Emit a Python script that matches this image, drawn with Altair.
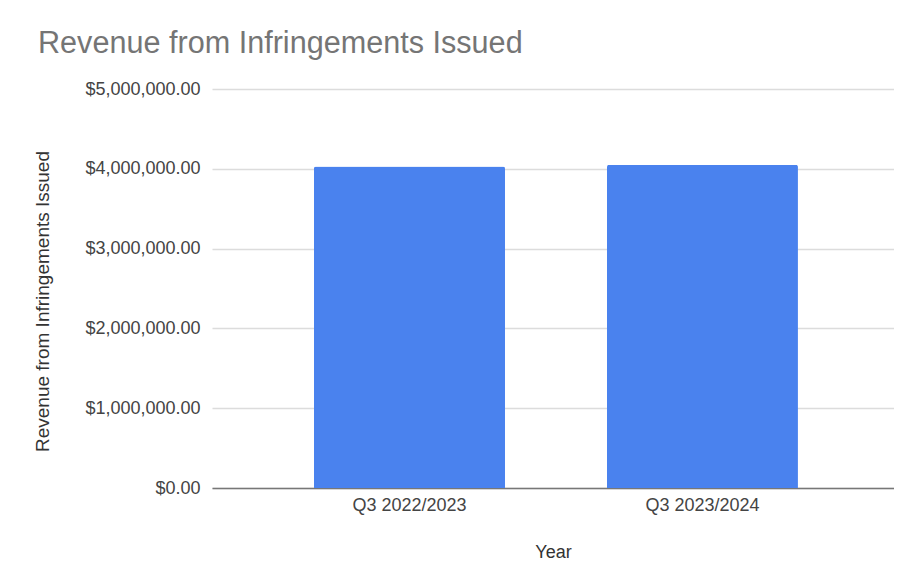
import altair as alt
import pandas as pd

years = ["Q3 2022/2023", "Q3 2023/2024"]
revenue = [4028000, 4049000]

df = pd.DataFrame({"Year": years, "Revenue": revenue})

FONT = "Liberation Sans"

chart = (
    alt.Chart(df)
    .mark_bar(color="#4a82ee", cornerRadiusTopLeft=2, cornerRadiusTopRight=2)
    .encode(
        x=alt.X(
            "Year:N",
            sort=years,
            scale=alt.Scale(paddingInner=0.348, paddingOuter=0.338, align=0.515),
            axis=alt.Axis(
                title="Year",
                labelAngle=0,
                labelFontSize=18,
                labelColor="#444444",
                labelPadding=8,
                ticks=False,
                tickSize=0,
                domainColor="#777777",
                domainWidth=1.6,
                titleFontSize=18,
                titleFontWeight="normal",
                titleColor="#333333",
                titleBaseline="alphabetic",
                titleY=69,
            ),
        ),
        y=alt.Y(
            "Revenue:Q",
            scale=alt.Scale(domain=[0, 5000000]),
            axis=alt.Axis(
                title="Revenue from Infringements Issued",
                values=[0, 1000000, 2000000, 3000000, 4000000, 5000000],
                format="$,.2f",
                labelFontSize=18,
                labelColor="#444444",
                labelPadding=12,
                ticks=False,
                tickSize=0,
                domain=False,
                gridColor="#dcdcdc",
                gridWidth=1.3,
                titleFontSize=19,
                titleFontWeight="normal",
                titleColor="#333333",
                titleAngle=-90,
                titleBaseline="alphabetic",
                titleAlign="center",
                titleX=-164,
                titleY=212,
            ),
        ),
    )
    .properties(
        width=682,
        height=399,
        title=alt.TitleParams(
            "Revenue from Infringements Issued",
            anchor="start",
            frame="group",
            fontSize=30.6,
            fontWeight="normal",
            color="#757575",
            font=FONT,
            baseline="alphabetic",
            offset=35,
            dx=-174,
            dy=39,
        ),
        autosize=alt.AutoSizeParams(type="none"),
        padding={"left": 204, "top": 81, "right": 0, "bottom": 75},
    )
    .configure(font=FONT)
    .configure_view(stroke=None)
)

chart.save("out.html", embed_options={"renderer": "svg", "actions": False})
